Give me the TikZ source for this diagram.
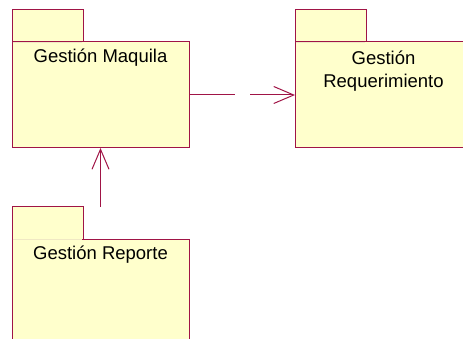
\documentclass[tikz,border=0pt]{standalone}
\usepackage{fontspec}
\setmainfont{Liberation Sans}
\usetikzlibrary{arrows.meta}

\definecolor{pkgline}{RGB}{160,20,70}
\definecolor{pkgfill}{RGB}{255,255,204}
\definecolor{tabseam}{RGB}{240,232,196}

\tikzset{
  pkgbody/.style={draw=pkgline, fill=pkgfill, line width=1pt, minimum width=177pt,
    minimum height=106pt, inner sep=0pt, outer sep=0pt},
  pkgtab/.style={draw=pkgline, fill=pkgfill, line width=1pt, minimum width=71pt,
    minimum height=32pt, inner sep=0pt, outer sep=0pt, anchor=south west},
  pkgname/.style={font=\fontsize{18.5}{23.5}\selectfont, align=center, anchor=base},
  dep/.style={pkgline, line width=1pt, -{Straight Barb[length=20pt,width=17pt]}}
}

\begin{document}
\begin{tikzpicture}[x=1pt, y=-1pt]
  \useasboundingbox (0,0) rectangle (463,339);
  \clip (0,0) rectangle (463,339);

  % packages
  \node[pkgbody] (maquila) at (100.5,95) {};
  \node[pkgtab] (maquilatab) at (maquila.north west) {};
  \draw[tabseam] ([xshift=0.6pt]maquilatab.south west) -- ([xshift=-0.6pt]maquilatab.south east);
  \node[pkgname] (maquilatxt) at ([yshift=-20.5pt]maquila.north) {Gestión Maquila};

  \node[pkgbody] (requerimiento) at (383.5,95) {};
  \node[pkgtab] (requerimientotab) at (requerimiento.north west) {};
  \draw[tabseam] ([xshift=0.6pt]requerimientotab.south west) -- ([xshift=-0.6pt]requerimientotab.south east);
  \node[pkgname, anchor=north] (requerimientotxt) at ([yshift=-5pt]requerimiento.north) {Gestión\\Requerimiento};

  \node[pkgbody] (reporte) at (100.5,292) {};
  \node[pkgtab] (reportetab) at (reporte.north west) {};
  \draw[tabseam] ([xshift=0.6pt]reportetab.south west) -- ([xshift=-0.6pt]reportetab.south east);
  \node[pkgname] (reportetxt) at ([yshift=-20.5pt]reporte.north) {Gestión Reporte};

  % dependencies
  \draw[dep, dash pattern=on 46pt off 15pt] (maquila.east) -- (requerimiento.west);
  \draw[dep] (reporte.north |- reportetab.north) -- (maquila.south);
\end{tikzpicture}
\end{document}
